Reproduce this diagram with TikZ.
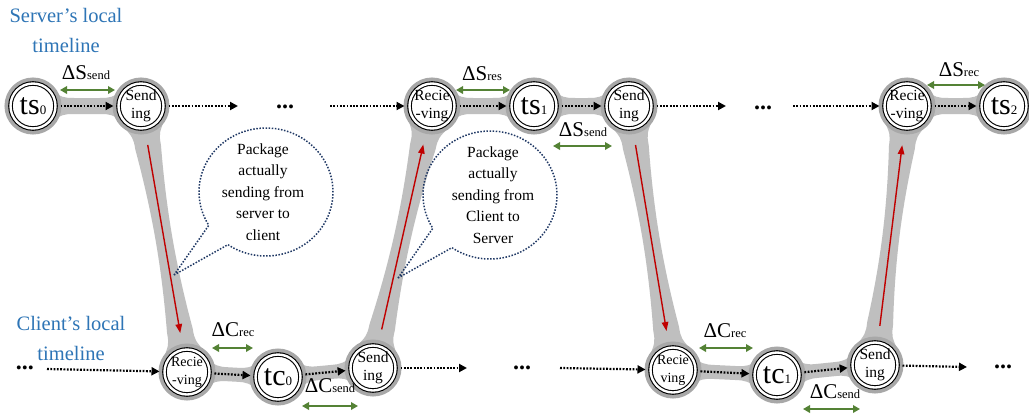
\documentclass[tikz,border=0pt]{standalone}
\usepackage{fontspec}
\setmainfont{Liberation Serif}
\usetikzlibrary{calc,arrows.meta,shapes.callouts}

\pgfdeclarelayer{bands}
\pgfsetlayers{bands,main}

\definecolor{halo}{RGB}{168,168,168}
\definecolor{bandgray}{RGB}{191,191,191}
\definecolor{titleblue}{RGB}{46,117,182}
\definecolor{deltagreen}{RGB}{84,130,53}
\definecolor{pathred}{RGB}{192,0,0}
\definecolor{bubblenavy}{RGB}{31,56,100}

% large symbol with a small same-baseline index
\newcommand\bigsub[2]{{\fontsize{30}{30}\selectfont #1}{\fontsize{13}{13}\selectfont #2}}
% delta label: big "Delta + letter", small suffix
\newcommand\dlab[2]{{\fontsize{21}{21}\selectfont Δ#1}{\fontsize{12.5}{12.5}\selectfont #2}}

% grey tapered band joining two nodes
% #1,#2 nodes; #3 half width near the nodes; #4 half width in the middle; #5 half width of the fillet foot
\newcommand\gband[5]{%
  \fill[bandgray]
    ($(#1)!14pt!(#2)!#5pt!90:(#2)$)
    .. controls ($(#1)!30pt!(#2)!#3pt!90:(#2)$) .. ($(#1)!42pt!(#2)!#3pt!90:(#2)$)
    .. controls ($(#1)!0.4!(#2)!#4pt!90:(#2)$) and ($(#2)!0.4!(#1)!#4pt!-90:(#1)$) .. ($(#2)!42pt!(#1)!#3pt!-90:(#1)$)
    .. controls ($(#2)!30pt!(#1)!#3pt!-90:(#1)$) .. ($(#2)!14pt!(#1)!#5pt!-90:(#1)$)
    -- ($(#2)!14pt!(#1)!#5pt!90:(#1)$)
    .. controls ($(#2)!30pt!(#1)!#3pt!90:(#1)$) .. ($(#2)!42pt!(#1)!#3pt!90:(#1)$)
    .. controls ($(#2)!0.4!(#1)!#4pt!90:(#1)$) and ($(#1)!0.4!(#2)!#4pt!-90:(#2)$) .. ($(#1)!42pt!(#2)!#3pt!-90:(#2)$)
    .. controls ($(#1)!30pt!(#2)!#3pt!-90:(#2)$) .. ($(#1)!14pt!(#2)!#5pt!-90:(#2)$)
    -- cycle;}

\tikzset{
  state/.style={circle, minimum size=45pt, inner sep=-6pt, outer sep=5pt,
    fill=white, draw=black, line width=1.1pt, double=white, double distance=2.4pt,
    preaction={draw=halo, line width=12pt},
    align=center, font=\fontsize{15.5}{18}\selectfont},
  small state/.style={state, font=\fontsize{14}{18}\selectfont},
  dotarr/.style={line width=2.2pt, dash pattern=on 1.8pt off 1.5pt,
    -{Triangle[length=8pt,width=8pt]}},
  redarr/.style={draw=pathred, line width=1.4pt, -{Triangle[length=9pt,width=6.5pt]},
    shorten <=12pt, shorten >=12pt},
  dblarr/.style={draw=deltagreen, line width=2pt,
    {Triangle[length=7pt,width=7.5pt]}-{Triangle[length=7pt,width=7.5pt]}},
  dots/.style={inner sep=0pt, font=\fontsize{24}{24}\selectfont\bfseries},
  title/.style={text=titleblue, align=center, font=\fontsize{20.5}{30}\selectfont},
  dlabel/.style={inner sep=0pt},
  bubble/.style={ellipse callout, draw=bubblenavy, line width=1.5pt,
    dash pattern=on 1.5pt off 1.6pt, minimum width=134pt, minimum height=128pt,
    callout pointer arc=24},
  bubbletext/.style={align=center, font=\fontsize{15.5}{21.5}\selectfont},
}

\begin{document}
\begin{tikzpicture}[x=1pt,y=-1pt]
\useasboundingbox (0,0) rectangle (1029,416);
\clip (0,0) rectangle (1029,416);

% timeline titles
\node[title] (srvtitle) at (66,30) {Server’s local\\timeline};
\node[title] (clititle) at (71,338) {Client’s local\\timeline};

% server timeline
\node[state] (ts0) at (33,106) {\bigsub{ts}{0}};
\node[state] (sS1) at (141,106) {Send\\ing};
\node[state] (sR1) at (432,106) {Recie\\-ving};
\node[state] (ts1) at (534,106) {\bigsub{ts}{1}};
\node[state] (sS2) at (629,106) {Send\\ing};
\node[state] (sR2) at (907,106) {Recie\\-ving};
\node[state] (ts2) at (1004,106) {\bigsub{ts}{2}};

% client timeline
\node[small state] (cR1) at (187,372) {Recie\\-ving};
\node[state] (tc0) at (278,377) {\bigsub{tc}{0}};
\node[state] (cS1) at (373,368) {Send\\ing};
\node[small state] (cR2) at (673,370) {Recie\\ving};
\node[state] (tc1) at (777,375) {\bigsub{tc}{1}};
\node[state] (cS2) at (875,365) {Send\\ing};

% ellipses
\node[dots] (dT1) at (285,107) {...};
\node[dots] (dT2) at (763,108) {...};
\node[dots] (dB0) at (25,368) {...};
\node[dots] (dB1) at (522,368) {...};
\node[dots] (dB2) at (1003,367) {...};

% white page and grey bands behind the nodes
\begin{pgfonlayer}{bands}
  \fill[white] (0,0) rectangle (1029,416);
  \gband{ts0}{sS1}{8}{8}{18}
  \gband{sR1}{ts1}{8}{8}{18}
  \gband{ts1}{sS2}{8}{8}{18}
  \gband{sR2}{ts2}{8}{8}{18}
  \gband{cR1}{tc0}{7}{7}{17}
  \gband{tc0}{cS1}{7}{7}{17}
  \gband{cR2}{tc1}{7}{7}{17}
  \gband{tc1}{cS2}{7}{7}{17}
  \gband{sS1}{cR1}{13}{7}{23}
  \gband{cS1}{sR1}{13}{7}{23}
  \gband{sS2}{cR2}{13}{7}{23}
  \gband{cS2}{sR2}{13}{7}{23}
\end{pgfonlayer}

% open ends of the dotted timelines
\coordinate (oT1) at (238,106);
\coordinate (iT1) at (330,106);
\coordinate (oT2) at (726,106);
\coordinate (iT2) at (793,106);
\coordinate (iB0) at (47,369);
\coordinate (oB1) at (467,368);
\coordinate (iB1) at (560,368);
\coordinate (oB2) at (967,367);

% dotted timeline arrows
\draw[dotarr] (ts0) -- (sS1);
\draw[dotarr] (sS1) -- (oT1);
\draw[dotarr] (iT1) -- (sR1);
\draw[dotarr] (sR1) -- (ts1);
\draw[dotarr] (ts1) -- (sS2);
\draw[dotarr] (sS2) -- (oT2);
\draw[dotarr] (iT2) -- (sR2);
\draw[dotarr] (sR2) -- (ts2);
\draw[dotarr] (iB0) -- (cR1);
\draw[dotarr] (cR1) -- (tc0);
\draw[dotarr] (tc0) -- (cS1);
\draw[dotarr] (cS1) -- (oB1);
\draw[dotarr] (iB1) -- (cR2);
\draw[dotarr] (cR2) -- (tc1);
\draw[dotarr] (tc1) -- (cS2);
\draw[dotarr] (cS2) -- (oB2);

% packets in flight
\draw[redarr] (sS1) -- (cR1);
\draw[redarr] (cS1) -- (sR1);
\draw[redarr] (sS2) -- (cR2);
\draw[redarr] (cS2) -- (sR2);

% processing intervals
\coordinate (g1a) at (60,90);   \coordinate (g1b) at (115,90);
\coordinate (g2a) at (456,90);  \coordinate (g2b) at (510,90);
\coordinate (g3a) at (553,146); \coordinate (g3b) at (612,146);
\coordinate (g4a) at (927,85);  \coordinate (g4b) at (985,85);
\coordinate (g5a) at (212,348); \coordinate (g5b) at (253,348);
\coordinate (g6a) at (302,406); \coordinate (g6b) at (358,406);
\coordinate (g7a) at (699,348); \coordinate (g7b) at (753,348);
\coordinate (g8a) at (803,409); \coordinate (g8b) at (860,409);
\draw[dblarr] (g1a) -- (g1b);
\draw[dblarr] (g2a) -- (g2b);
\draw[dblarr] (g3a) -- (g3b);
\draw[dblarr] (g4a) -- (g4b);
\draw[dblarr] (g5a) -- (g5b);
\draw[dblarr] (g6a) -- (g6b);
\draw[dblarr] (g7a) -- (g7b);
\draw[dblarr] (g8a) -- (g8b);

\node[dlabel] (l1) at (86,73) {\dlab{S}{send}};
\node[dlabel] (l2) at (482,74) {\dlab{S}{res}};
\node[dlabel] (l3) at (583,130) {\dlab{S}{send}};
\node[dlabel] (l4) at (959,70) {\dlab{S}{rec}};
\node[dlabel] (l5) at (233,330) {\dlab{C}{rec}};
\node[dlabel] (l6) at (330,386) {\dlab{C}{send}};
\node[dlabel] (l7) at (725,331) {\dlab{C}{rec}};
\node[dlabel] (l8) at (835,392) {\dlab{C}{send}};

% speech bubbles
\coordinate (tip1) at (174,275);
\coordinate (tip2) at (398,278);
\node[bubble, callout absolute pointer={(tip1)}] (bub1) at (266,192) {};
\node[bubble, callout absolute pointer={(tip2)}] (bub2) at (490,195) {};
\node[bubbletext] (bub1text) at (263,192) {Package\\actually\\sending from\\server to\\client};
\node[bubbletext] (bub2text) at (493,195) {Package\\actually\\sending from\\Client to\\Server};
\end{tikzpicture}
\end{document}
